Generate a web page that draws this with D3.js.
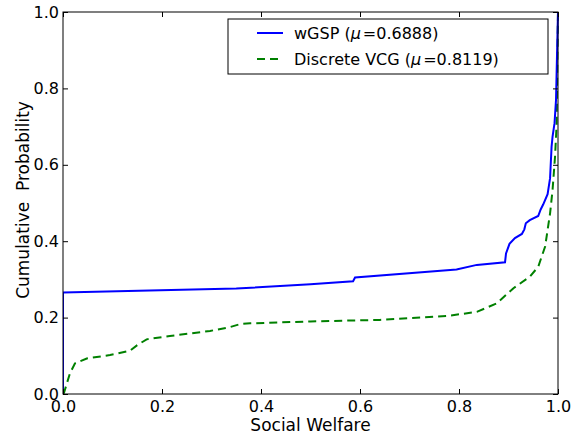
<!DOCTYPE html>
<html>
<head>
<meta charset="utf-8">
<script src="https://cdn.jsdelivr.net/npm/d3@7"></script>
<style>
  body { margin: 0; background: #fff; }
  text { font-family: "DejaVu Sans", sans-serif; }
</style>
</head>
<body>
<div id="chart"></div>
<script>
// Chart data.
const wgspX = [0, 0, 0.35, 0.5, 0.586, 0.59, 0.795, 0.836, 0.893, 0.895, 0.902, 0.913, 0.927, 0.932, 0.935, 0.943, 0.960, 0.965, 0.970, 0.979, 0.984, 0.987, 0.989, 0.993, 0.996, 0.999, 1.0];
const wgspY = [0, 0.266, 0.276, 0.287, 0.295, 0.305, 0.326, 0.338, 0.345, 0.368, 0.393, 0.408, 0.419, 0.431, 0.447, 0.455, 0.466, 0.483, 0.496, 0.523, 0.565, 0.647, 0.674, 0.709, 0.770, 0.945, 1.0];

const vcgX = [0, 0.002, 0.014, 0.024, 0.048, 0.095, 0.135, 0.150, 0.169, 0.216, 0.297, 0.337, 0.358, 0.378, 0.5, 0.64, 0.775, 0.836, 0.876, 0.91, 0.943, 0.96, 0.974, 0.984, 0.989, 0.994, 0.997, 1.0];
const vcgY = [0, 0.003, 0.054, 0.080, 0.093, 0.102, 0.113, 0.128, 0.143, 0.152, 0.165, 0.175, 0.183, 0.185, 0.190, 0.194, 0.204, 0.215, 0.237, 0.277, 0.307, 0.333, 0.386, 0.473, 0.534, 0.621, 0.70, 1.0];

const tickValues = [0, 0.2, 0.4, 0.6, 0.8, 1.0];
const seriesNames = ["wGSP", "Discrete VCG"];
const seriesMeans = ["0.6888", "0.8119"];

// Size and margins.
const width = 580;
const height = 435;
const margin = { top: 12, right: 22, bottom: 41, left: 63 };

const svg = d3.select("#chart")
  .append("svg")
  .attr("width", width)
  .attr("height", height);

const x = d3.scaleLinear()
  .domain([0, 1])
  .range([margin.left, width - margin.right]);

const y = d3.scaleLinear()
  .domain([0, 1])
  .range([height - margin.bottom, margin.top]);

svg.append("clipPath")
  .attr("id", "plot-clip")
  .append("rect")
  .attr("x", margin.left)
  .attr("y", margin.top - 2)
  .attr("width", width - margin.left - margin.right + 2)
  .attr("height", height - margin.top - margin.bottom + 2);

const line = d3.line()
  .x(function(d) { return x(d[0]); })
  .y(function(d) { return y(d[1]); });

const wgsp = wgspX.map(function(v, i) { return [v, wgspY[i]]; });
const vcg = vcgX.map(function(v, i) { return [v, vcgY[i]]; });

// Dashed VCG curve first, blue on top.
svg.append("path")
  .datum(vcg)
  .attr("clip-path", "url(#plot-clip)")
  .attr("fill", "none")
  .attr("stroke", "#008000")
  .attr("stroke-width", 2)
  .attr("stroke-dasharray", "8,5")
  .attr("d", line);

svg.append("path")
  .datum(wgsp)
  .attr("clip-path", "url(#plot-clip)")
  .attr("fill", "none")
  .attr("stroke", "#0000ff")
  .attr("stroke-width", 2)
  .attr("d", line);

// Axes with inward ticks on all four sides.
const tickFmt = d3.format(".1f");

function styleAxis(g) {
  g.select(".domain").remove();
  g.selectAll("line").attr("stroke", "#000");
  g.selectAll("text")
    .attr("fill", "#000")
    .style("font-size", "16px")
    .style("font-family", "DejaVu Sans, sans-serif");
}

svg.append("g")
  .attr("transform", "translate(0," + (height - margin.bottom) + ")")
  .call(d3.axisBottom(x).tickValues(tickValues).tickFormat(tickFmt).tickSize(-5).tickPadding(7))
  .call(styleAxis);

svg.append("g")
  .attr("transform", "translate(" + margin.left + ",0)")
  .call(d3.axisLeft(y).tickValues(tickValues).tickFormat(tickFmt).tickSize(-5).tickPadding(4))
  .call(styleAxis);

svg.append("g")
  .attr("transform", "translate(0," + margin.top + ")")
  .call(d3.axisTop(x).tickValues(tickValues).tickFormat("").tickSize(-5))
  .call(styleAxis);

svg.append("g")
  .attr("transform", "translate(" + (width - margin.right) + ",0)")
  .call(d3.axisRight(y).tickValues(tickValues).tickFormat("").tickSize(-5))
  .call(styleAxis);

// Plot frame.
svg.append("rect")
  .attr("x", margin.left)
  .attr("y", margin.top)
  .attr("width", width - margin.left - margin.right)
  .attr("height", height - margin.top - margin.bottom)
  .attr("fill", "none")
  .attr("stroke", "#000")
  .attr("stroke-width", 1);

// Axis labels.
svg.append("text")
  .attr("x", (margin.left + width - margin.right) / 2)
  .attr("y", 431)
  .attr("text-anchor", "middle")
  .style("font-size", "17px")
  .text("Social Welfare");

svg.append("text")
  .attr("transform", "translate(29,200) rotate(-90)")
  .attr("text-anchor", "middle")
  .style("font-size", "17px")
  .style("white-space", "pre")
  .attr("xml:space", "preserve")
  .text("Cumulative  Probability");

// Legend.
const legend = svg.append("g");

legend.append("rect")
  .attr("x", 228)
  .attr("y", 19)
  .attr("width", 320)
  .attr("height", 55)
  .attr("fill", "#fff")
  .attr("stroke", "#000")
  .attr("stroke-width", 1);

const legendColors = ["#0000ff", "#008000"];
const legendDash = [null, "8,5"];

seriesNames.forEach(function(name, i) {
  const ly = 33 + i * 26;
  legend.append("line")
    .attr("x1", 257)
    .attr("x2", 283)
    .attr("y1", ly)
    .attr("y2", ly)
    .attr("stroke", legendColors[i])
    .attr("stroke-width", 2)
    .attr("stroke-dasharray", legendDash[i]);

  const t = legend.append("text")
    .attr("x", 294)
    .attr("y", ly + 6)
    .style("font-size", "16px");
  t.append("tspan").text(name + " (");
  t.append("tspan").style("font-style", "italic").text("\u03bc");
  t.append("tspan").attr("dx", 2).text("=" + seriesMeans[i] + ")");
});
</script>
</body>
</html>
